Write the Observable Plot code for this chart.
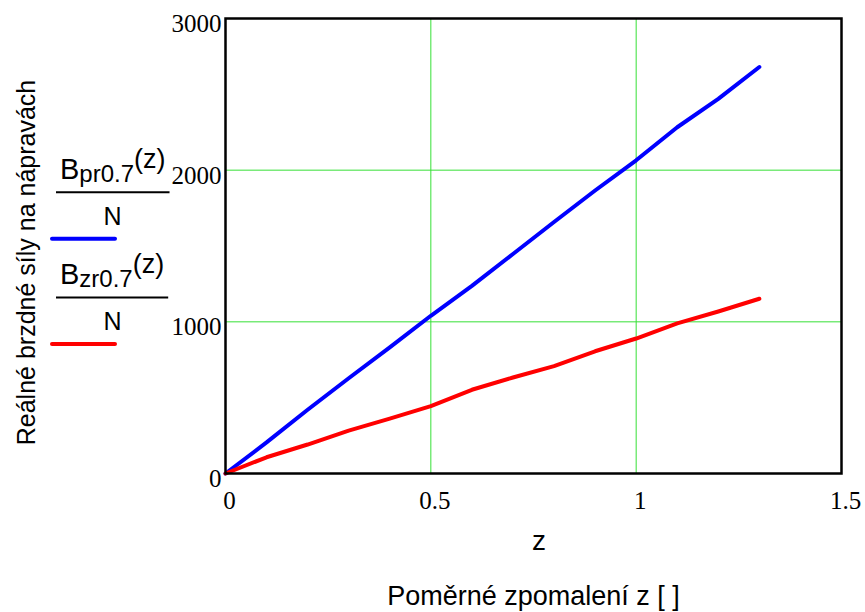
<!DOCTYPE html>
<html>
<head>
<meta charset="utf-8">
<script src="https://cdn.jsdelivr.net/npm/d3@7"></script>
<script src="https://cdn.jsdelivr.net/npm/@observablehq/plot@0.6"></script>
<style>
  body { margin: 0; background: #fff; }
  #chart { width: 865px; height: 612px; }
</style>
</head>
<body>
<div id="chart"></div>
<script>
// Relative deceleration z and the real braking forces on the axles [N]
const z = [0, 0.1, 0.2, 0.3, 0.4, 0.5, 0.6, 0.7, 0.8, 0.9, 1.0, 1.1, 1.2, 1.3];
const brakeFront = [0, 205, 420, 628, 832, 1040, 1237, 1447, 1658, 1866, 2065, 2283, 2470, 2680];
const brakeRear = [0, 107, 191, 283, 362, 444, 552, 633, 708, 806, 890, 990, 1068, 1152];

const seriesSubscripts = ["pr0.7", "zr0.7"];
const seriesColors = ["#0000ff", "#ff0000"];

const xTicks = [0, 0.5, 1, 1.5];
const yTicks = [0, 1000, 2000, 3000];
const xGrid = [0.5, 1];
const yGrid = [1000, 2000];

const xVariable = "z";
const xTitle = "Poměrné zpomalení z [ ]";
const yTitle = "Reálné brzdné síly na nápravách";

const serif = "'Liberation Serif', 'Times New Roman', serif";
const sans = "'Liberation Sans', Arial, Helvetica, sans-serif";
const gridColor = "#36e036";

const front = z.map((v, i) => ({z: v, B: brakeFront[i]}));
const rear = z.map((v, i) => ({z: v, B: brakeRear[i]}));

const lineStyle = {x: "z", y: "B", strokeWidth: 4, strokeLinejoin: "round", strokeLinecap: "round"};

const chart = Plot.plot({
  width: 865,
  height: 612,
  marginLeft: 225,
  marginRight: 24,
  marginTop: 18,
  marginBottom: 139,
  x: {domain: [0, 1.5], axis: null},
  y: {domain: [0, 3000], axis: null},
  style: {background: "#fff", overflow: "visible"},
  marks: [
    Plot.ruleX(xGrid, {x: d => d, stroke: gridColor, strokeWidth: 1}),
    Plot.ruleY(yGrid, {y: d => d, stroke: gridColor, strokeWidth: 1}),
    Plot.line(front, {...lineStyle, stroke: seriesColors[0]}),
    Plot.line(rear, {...lineStyle, stroke: seriesColors[1]}),
    Plot.frame({stroke: "#000", strokeWidth: 2.5}),
    // tick labels
    Plot.text(xTicks, {x: d => d, text: d => String(d), frameAnchor: "bottom", lineAnchor: "bottom",
      dx: 4, dy: 35, fontFamily: serif, fontSize: 25, fill: "#000"}),
    Plot.text(yTicks, {y: d => d, text: d => String(d), frameAnchor: "left", textAnchor: "end", lineAnchor: "bottom",
      dx: -4, dy: 13.5, fontFamily: serif, fontSize: 25, fill: "#000"}),
    // axis titles
    Plot.text([xVariable], {text: d => d, frameAnchor: "bottom", lineAnchor: "bottom",
      dx: 5.5, dy: 76, fontFamily: sans, fontSize: 28, fill: "#000"}),
    Plot.text([xTitle], {text: d => d, frameAnchor: "bottom", lineAnchor: "bottom",
      dx: 0, dy: 131, fontFamily: sans, fontSize: 27, fill: "#000"}),
    Plot.text([yTitle], {text: d => d, frameAnchor: "left", textAnchor: "middle", lineAnchor: "middle", rotate: -90,
      dx: -199, dy: 16.5, fontFamily: sans, fontSize: 25, fill: "#000"})
  ]
});

document.getElementById("chart").append(chart);

// Legend: B_sub(z) / N expressions with their line swatches
const legend = d3.select(chart).append("g")
  .attr("font-family", sans).attr("fill", "#000").attr("text-anchor", "start");
const step = 105.3;
seriesSubscripts.forEach((sub, i) => {
  const oy = i * step;
  const num = legend.append("text").attr("x", 60).attr("y", 179 + oy).attr("text-anchor", "start");
  num.append("tspan").attr("font-size", 29).text("B");
  num.append("tspan").attr("font-size", 24).attr("dy", 3).text(sub);
  num.append("tspan").attr("font-size", 27).attr("dy", -14).text("(z)");
  const box = num.node().getBBox();
  legend.append("line")
    .attr("x1", 56).attr("x2", box.x + box.width + 4)
    .attr("y1", 192.3 + oy).attr("y2", 192.3 + oy)
    .attr("stroke", "#000").attr("stroke-width", 2);
  legend.append("text")
    .attr("x", 112.5).attr("y", 225 + oy)
    .attr("text-anchor", "middle").attr("font-size", 25)
    .text("N");
  legend.append("line")
    .attr("x1", 52).attr("x2", 115)
    .attr("y1", 238.7 + oy).attr("y2", 238.7 + oy)
    .attr("stroke", seriesColors[i]).attr("stroke-width", 4)
    .attr("stroke-linecap", "round");
});
</script>
</body>
</html>
